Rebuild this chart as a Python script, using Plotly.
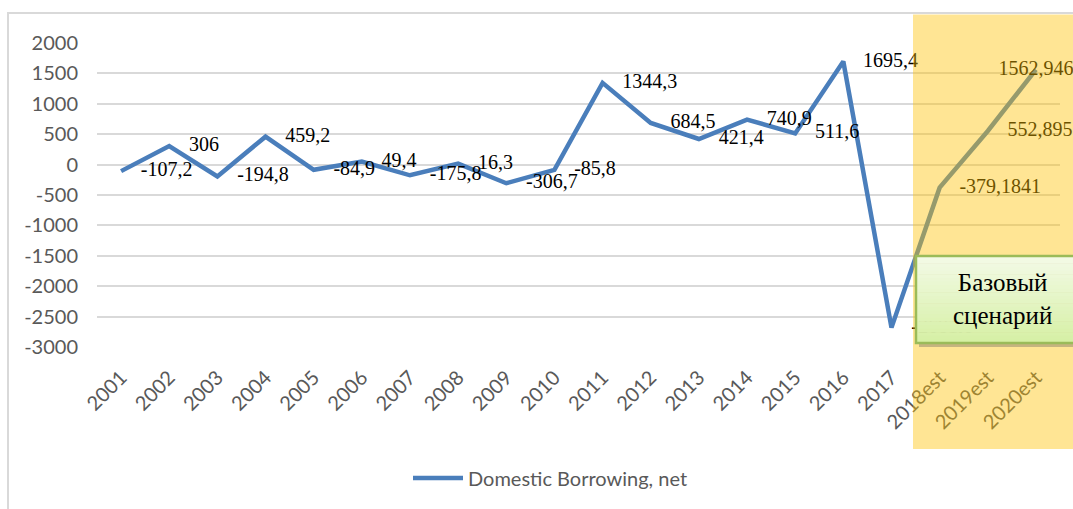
import plotly.graph_objects as go

years = ["2001", "2002", "2003", "2004", "2005", "2006", "2007", "2008", "2009", "2010",
         "2011", "2012", "2013", "2014", "2015", "2016", "2017", "2018est", "2019est", "2020est"]
values = [-107.2, 306, -194.8, 459.2, -84.9, 49.4, -175.8, 16.3, -306.7, -85.8,
          1344.3, 684.5, 421.4, 740.9, 511.6, 1695.4, -2681.6, -379.1841, 552.8953, 1562.9465]
labels = ["-107,2", "306", "-194,8", "459,2", "-84,9", "49,4", "-175,8", "16,3", "-306,7", "-85,8",
          "1344,3", "684,5", "421,4", "740,9", "511,6", "1695,4", "-2681,6", "-379,1841", "552,8953", "1562,946"]
label_pos = ["middle right"] * 19 + ["middle center"]
y_ticks = [2000, 1500, 1000, 500, 0, -500, -1000, -1500, -2000, -2500, -3000]
series_name = "Domestic Borrowing, net"
box_text = "Базовый<br>сценарий"

W, H = 1073, 509
L, R, T, B = 97, 1060, 43, 347


def px(x):
    return (x - L) / (R - L)


def py(y):
    return (B - y) / (B - T)


fig = go.Figure()
fig.add_trace(go.Scatter(
    x=years, y=values, mode="lines", name=series_name,
    line=dict(color="#4a7ebb", width=4.5), hoverinfo="skip"))
fig.add_trace(go.Scatter(
    x=years, y=values, mode="markers+text", text=labels, textposition=label_pos,
    marker=dict(size=30, opacity=0), showlegend=False, cliponaxis=False,
    textfont=dict(family="Liberation Serif", size=20, color="#000000"), hoverinfo="skip"))

shapes = []
# chart border
shapes.append(dict(type="rect", xref="paper", yref="paper", x0=px(8), x1=px(1090), y0=py(13), y1=py(540),
                   line=dict(color="#d9d9d9", width=2), fillcolor="rgba(0,0,0,0)", layer="below"))
# forecast overlay
shapes.append(dict(type="rect", xref="paper", yref="paper", x0=px(913), x1=px(1090), y0=py(14.5), y1=py(449),
                   line=dict(width=0), fillcolor="rgba(255,192,0,0.42)", layer="above"))
# box shadow
bx0, bx1, by0, by1 = 916, 1090, 256, 343
shapes.append(dict(type="rect", xref="paper", yref="paper", x0=px(bx0 + 3), x1=px(bx1 + 3), y0=py(by0 + 4), y1=py(by1 + 4),
                   line=dict(width=0), fillcolor="rgba(90,90,90,0.35)", layer="above"))
# gradient box
n = 24
c_top = (243, 250, 230)
c_bot = (214, 240, 165)
for i in range(n):
    t = i / (n - 1)
    c = tuple(int(round(c_top[k] + (c_bot[k] - c_top[k]) * t)) for k in range(3))
    ya = by0 + (by1 - by0) * i / n
    yb = by0 + (by1 - by0) * (i + 1) / n
    shapes.append(dict(type="rect", xref="paper", yref="paper", x0=px(bx0), x1=px(bx1), y0=py(ya), y1=py(yb + 0.6),
                       line=dict(width=0), fillcolor="rgb(%d,%d,%d)" % c, layer="above"))
shapes.append(dict(type="rect", xref="paper", yref="paper", x0=px(bx0), x1=px(bx1), y0=py(by0), y1=py(by1),
                   line=dict(color="#9bbb59", width=2.5), fillcolor="rgba(0,0,0,0)", layer="above"))

fig.update_layout(
    width=W, height=H,
    margin=dict(l=L, r=W - R, t=T, b=H - B, autoexpand=False),
    paper_bgcolor="white", plot_bgcolor="white",
    shapes=shapes,
    showlegend=True,
    legend=dict(x=px(408), y=py(478), xanchor="left", yanchor="middle", orientation="h", itemwidth=50,
                font=dict(family="Lato", size=20, color="#595959"), bgcolor="rgba(0,0,0,0)"),
    annotations=[dict(xref="paper", yref="paper", x=px(1002), y=py(299), text=box_text, showarrow=False,
                      font=dict(family="Liberation Serif", size=25, color="#000000"), xanchor="center", yanchor="middle")],
    xaxis=dict(type="category", categoryorder="array", categoryarray=years, tickangle=-45,
               tickfont=dict(family="Lato", size=20, color="#595959"), showgrid=False, showline=False,
               zeroline=False, ticks="", ticklabelstandoff=14, range=[-0.5, len(years) - 0.5], fixedrange=True),
    yaxis=dict(range=[-3000, 2000], tickvals=y_ticks, ticktext=[str(v) for v in y_ticks],
               tickfont=dict(family="Lato", size=20, color="#595959"), showgrid=True, gridcolor="#d9d9d9",
               gridwidth=1.5, zeroline=False, showline=False, ticks="", ticklabelstandoff=18),
)

fig.write_html("out.html")
